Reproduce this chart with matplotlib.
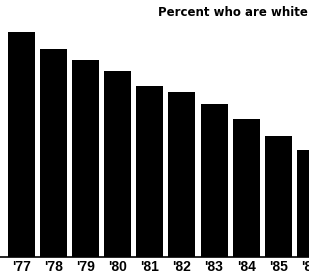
import matplotlib.pyplot as plt

# Data (no y axis shown, values estimated)
years = ["'77", "'78", "'79", "'80", "'81", "'82", "'83", "'84", "'85", "'86"]
pctWhite = [90.0, 83.2, 78.8, 74.4, 68.4, 66.0, 61.2, 55.2, 48.4, 42.8]

fig = plt.figure(figsize=(3.09, 2.79), dpi=100)
# axes run past the right edge so the last bar and label get cut off like the original
ax = fig.add_axes([0, 22 / 279, 1.1, 257 / 279])

x = range(len(years))
ax.bar(x, pctWhite, width=0.84, color="black")

ax.set_xlim(-0.67, -0.67 + 340 / 32.1)
ax.set_ylim(0, 102.8)
ax.set_xticks(list(x))
ax.set_xticklabels(years, fontsize=10, fontweight="bold", family="Liberation Sans")
ax.tick_params(axis="x", length=0, pad=2)
ax.set_yticks([])

for side in ["top", "left", "right"]:
    ax.spines[side].set_visible(False)
ax.spines["bottom"].set_linewidth(1.2)

fig.text(308 / 309, 1 - 6 / 279, "Percent who are white", ha="right", va="top",
         fontsize=8.5, fontweight="bold", family="DejaVu Sans")

fig.savefig("out.png", dpi=100)
